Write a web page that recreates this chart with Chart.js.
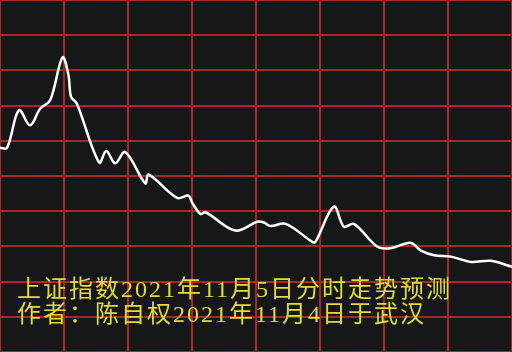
<!DOCTYPE html>
<html lang="zh">
<head>
<meta charset="UTF-8">
<title>上证指数分时走势预测</title>
<script src="https://cdn.jsdelivr.net/npm/chart.js"></script>
<style>
  body { margin: 0; background: #151719; }
  #wrap { position: relative; width: 512px; height: 352px; }
  .note {
    position: absolute; left: 17px; color: #e2dc3a;
    font-family: "Liberation Serif", "Noto Sans CJK SC", serif;
    font-size: 24px; line-height: 24px; letter-spacing: 2px; white-space: pre;
  }
</style>
</head>
<body>
<div id="wrap">
  <canvas id="grafico" width="512" height="352"></canvas>
  <div class="note" id="t1" style="top:277px"></div>
  <div class="note" id="t2" style="top:302px"></div>
</div>
<script>
// minutes since open (0..240) and predicted level in grid units (0..10)
const minutos = [0, 3.3, 8.9, 14.1, 18.8, 23.5, 29.3, 32.1, 33.3, 36.0, 46.5, 49.8, 54.0, 58.7,
  68.1, 69.7, 83.0, 88.4, 90.0, 93.9, 96.3, 110.4, 120.6, 123.7, 126.8, 133.9, 146.4, 147.9,
  156.5, 161.2, 165.9, 176.9, 183.2, 192.6, 197.3, 203.5, 211.4, 220.8, 230.1, 240];
const nivel = [5.80, 5.80, 6.87, 6.44, 6.91, 7.15, 8.37, 7.86, 7.25, 7.06, 5.38, 5.71, 5.36, 5.68,
  4.79, 5.04, 4.38, 4.44, 4.25, 3.92, 3.97, 3.45, 3.70, 3.68, 3.58, 3.64, 3.13, 3.13,
  4.13, 3.56, 3.64, 2.99, 2.95, 3.10, 2.88, 2.75, 2.71, 2.56, 2.59, 2.42];
const titulo = "上证指数2021年11月5日分时走势预测";
const autor = "作者：陈自权2021年11月4日于武汉";

document.getElementById("t1").textContent = titulo;
document.getElementById("t2").textContent = autor;

const puntos = minutos.map((m, i) => ({ x: m, y: nivel[i] }));
const rejilla = "#a82828";

new Chart(document.getElementById("grafico"), {
  type: "line",
  data: {
    datasets: [{
      data: puntos,
      borderColor: "#ffffff",
      borderWidth: 2.5,
      pointRadius: 0,
      tension: 0.35,
      fill: false
    }]
  },
  options: {
    responsive: false,
    animation: false,
    layout: { padding: 0 },
    plugins: { legend: { display: false }, tooltip: { enabled: false } },
    scales: {
      x: {
        type: "linear", min: 0, max: 240,
        ticks: { display: false, stepSize: 30 },
        grid: { color: rejilla, drawTicks: false, lineWidth: 2 },
        border: { color: rejilla, width: 2 }
      },
      y: {
        min: 0, max: 10,
        ticks: { display: false, stepSize: 1 },
        grid: { color: rejilla, drawTicks: false, lineWidth: 2 },
        border: { color: rejilla, width: 2 }
      }
    }
  }
});
</script>
</body>
</html>
